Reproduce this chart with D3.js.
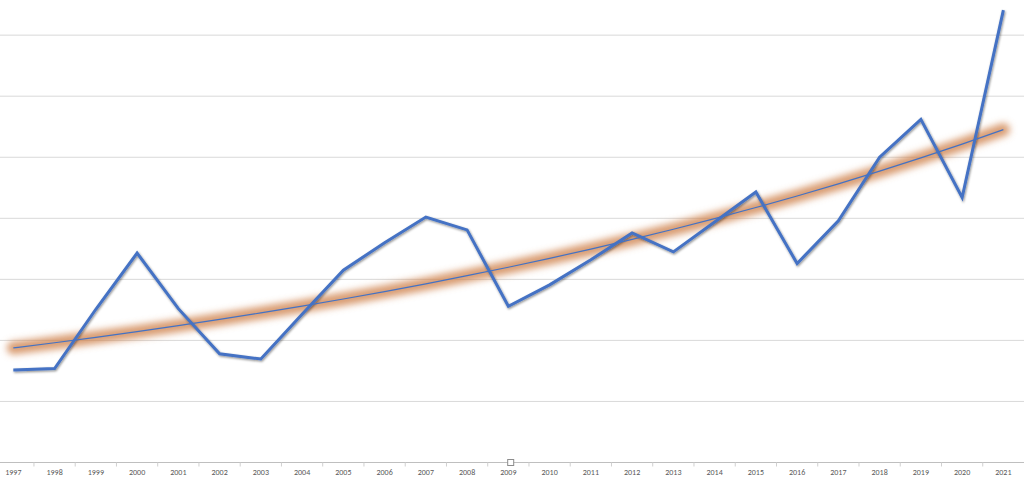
<!DOCTYPE html>
<html>
<head>
<meta charset="utf-8">
<script src="https://cdn.jsdelivr.net/npm/d3@7"></script>
<style>
  body { margin: 0; background: #fff; }
  .grid line { stroke: #d9d9d9; stroke-width: 1; }
  .xlab text { font-family: Calibri, Carlito, "Liberation Sans", Arial, sans-serif; font-size: 8px; fill: #595959; }
</style>
</head>
<body>
<svg id="svg"></svg>
<script>
// DATA
var years = ["1997","1998","1999","2000","2001","2002","2003","2004","2005","2006","2007","2008",
             "2009","2010","2011","2012","2013","2014","2015","2016","2017","2018","2019","2020","2021"];
var values = [15.15, 15.4, 25.1, 34.3, 25.2, 17.8, 16.95, 24.3, 31.5, 36.0, 40.2, 38.1,
              25.6, 29.1, 33.2, 37.6, 34.5, 39.4, 44.3, 32.6, 39.6, 50.0, 56.2, 43.4, 74.1];
var gridValues = [10, 20, 30, 40, 50, 60, 70];

var W = 1024, H = 482;

svg = d3.select("#svg")
          .attr("width", W)
          .attr("height", H);

var defs = svg.append("defs");

// orange glow under the trend line
defs.append("filter").attr("id","glow")
    .attr("x","-10%").attr("y","-50%").attr("width","120%").attr("height","200%")
  .append("feGaussianBlur").attr("stdDeviation", 3.6);

// soft shadow under the data line
var sh = defs.append("filter").attr("id","shadow")
    .attr("x","-5%").attr("y","-5%").attr("width","110%").attr("height","110%");
sh.append("feDropShadow")
    .attr("dx", 0.8).attr("dy", 1.2).attr("stdDeviation", 0.8)
    .attr("flood-color", "#000").attr("flood-opacity", 0.45);

var x = d3.scaleBand()
          .domain(years)
          .range([-7.3, 1024])
          .paddingInner(0).paddingOuter(0);

var y = d3.scaleLinear()
          .domain([0, 80])
          .range([462.5, 462.5 - 80 * 6.105]);

function cx(d){ return x(d) + x.bandwidth() / 2; }

// gridlines
svg.append("g").attr("class","grid")
  .selectAll("line").data(gridValues).enter()
  .append("line")
    .attr("x1", 0).attr("x2", W)
    .attr("y1", d => y(d)).attr("y2", d => y(d));

// exponential trendline fitted to the series (least squares on ln y)
function expTrend(vals){
  var n = vals.length, mx = (n - 1) / 2;
  var ln = vals.map(v => Math.log(v));
  var my = d3.mean(ln);
  var sxy = 0, sxx = 0;
  ln.forEach((l, i) => { sxy += (i - mx) * (l - my); sxx += (i - mx) * (i - mx); });
  var b = sxy / sxx, a = my - b * mx;
  return vals.map((v, i) => Math.exp(a + b * i));
}
var trend = expTrend(values);

var trendLine = d3.line()
    .x((d, i) => cx(years[i]))
    .y(d => y(d))
    .curve(d3.curveMonotoneX);

svg.append("path")
    .attr("d", trendLine(trend))
    .attr("fill","none")
    .attr("stroke","#cf8550")
    .attr("stroke-opacity", 0.8)
    .attr("stroke-width", 13)
    .attr("stroke-linecap","round")
    .attr("filter","url(#glow)");

// data line
var line = d3.line()
    .x((d, i) => cx(years[i]))
    .y(d => y(d));

svg.append("path")
    .attr("d", line(values))
    .attr("fill","none")
    .attr("stroke","#4472c4")
    .attr("stroke-width", 3)
    .attr("stroke-linejoin","miter")
    .attr("filter","url(#shadow)");

// thin trend line on top
svg.append("path")
    .attr("d", trendLine(trend))
    .attr("fill","none")
    .attr("stroke","#4472c4")
    .attr("stroke-width", 1.2);

// x axis
var axisY = y(0);
svg.append("line")
    .attr("x1", 0).attr("x2", W)
    .attr("y1", axisY).attr("y2", axisY)
    .attr("stroke","#bfbfbf").attr("stroke-width", 1.2);

svg.append("g").attr("class","xticks")
  .selectAll("line").data(years.slice(1)).enter()
  .append("line")
    .attr("x1", d => x(d)).attr("x2", d => x(d))
    .attr("y1", axisY).attr("y2", axisY + 4)
    .attr("stroke","#d0d0d0").attr("stroke-width", 1);

var xAxis = d3.axisBottom(x).tickSize(0).tickPadding(0);
svg.append("g").attr("class","xlab")
    .attr("transform","translate(0," + (axisY + 7) + ")")
    .call(xAxis)
    .call(g => g.select(".domain").remove());

// chart selection handle
svg.append("rect")
    .attr("x", 507.7).attr("y", axisY - 3)
    .attr("width", 6).attr("height", 6)
    .attr("fill","#fff").attr("stroke","#8c8c8c").attr("stroke-width", 1);
</script>
</body>
</html>
